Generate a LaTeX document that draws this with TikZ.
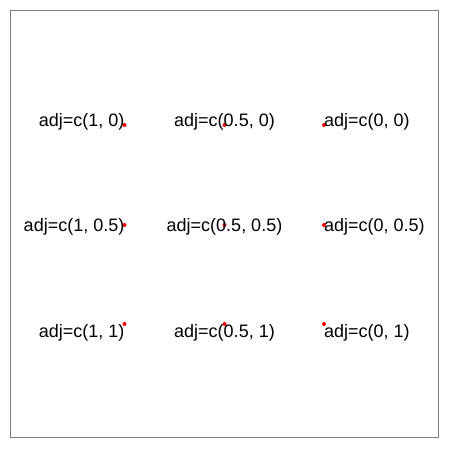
\documentclass[tikz,border=0pt]{standalone}
\usepackage{fontspec}
\setmainfont{Liberation Sans}
\usepackage{tikz}
\usetikzlibrary{positioning}

\tikzset{
    punto/.style = {circle, fill=red, inner sep=0pt, minimum size=4pt},
    etichetta/.style = {inner sep=0pt, text height=13pt, text depth=0pt, font=\fontsize{18}{18}\selectfont}
}

\begin{document}
\begin{tikzpicture}[x=1pt, y=1pt]
    % Parametri
    \pgfmathsetmacro{\xa}{124.5}
    \pgfmathsetmacro{\xb}{224.5}
    \pgfmathsetmacro{\xc}{324}
    \pgfmathsetmacro{\ya}{325}
    \pgfmathsetmacro{\yb}{225}
    \pgfmathsetmacro{\yc}{126}
    % Cornice
    \useasboundingbox (0,0) rectangle (450,450);
    \draw[gray, line width=1pt] (10.5,12.5) rectangle (438.5,439.5);
    % punti
    \node[punto] (p11) at (\xa,\ya) {};
    \node[punto] (p12) at (\xb,\ya) {};
    \node[punto] (p13) at (\xc,\ya) {};
    \node[punto] (p21) at (\xa,\yb) {};
    \node[punto] (p22) at (\xb,\yb) {};
    \node[punto] (p23) at (\xc,\yb) {};
    \node[punto] (p31) at (\xa,\yc) {};
    \node[punto] (p32) at (\xb,\yc) {};
    \node[punto] (p33) at (\xc,\yc) {};
    % prima riga, adj verticale 0
    \node[etichetta, anchor=south east, yshift=-2pt] (t11) at (p11.center) {adj=c(1, 0)};
    \node[etichetta, anchor=south, yshift=-2pt] (t12) at (p12.center) {adj=c(0.5, 0)};
    \node[etichetta, anchor=south west, yshift=-2pt] (t13) at (p13.center) {adj=c(0, 0)};
    % seconda riga, adj verticale 0.5
    \node[etichetta, anchor=east] (t21) at (p21.center) {adj=c(1, 0.5)};
    \node[etichetta, anchor=center] (t22) at (p22.center) {adj=c(0.5, 0.5)};
    \node[etichetta, anchor=west] (t23) at (p23.center) {adj=c(0, 0.5)};
    % terza riga, adj verticale 1
    \node[etichetta, anchor=north east] (t31) at (p31.center) {adj=c(1, 1)};
    \node[etichetta, anchor=north] (t32) at (p32.center) {adj=c(0.5, 1)};
    \node[etichetta, anchor=north west] (t33) at (p33.center) {adj=c(0, 1)};
\end{tikzpicture}
\end{document}
